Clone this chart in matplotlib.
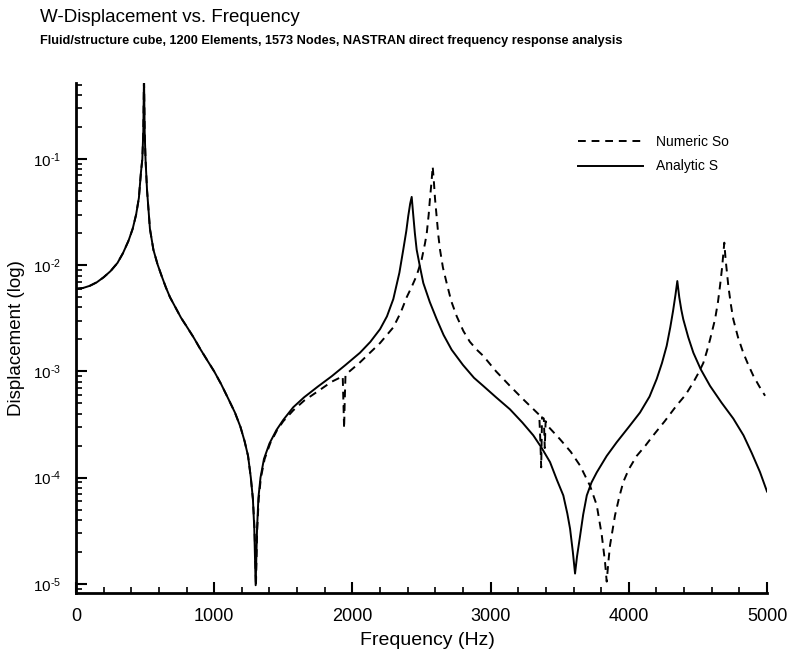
import matplotlib
matplotlib.use("Agg")
import matplotlib.pyplot as plt
from matplotlib.ticker import LogLocator, MultipleLocator, FixedLocator, FuncFormatter, NullFormatter
import numpy as np

plt.rcParams['font.family'] = ['Liberation Sans', 'DejaVu Sans']
plt.rcParams['mathtext.fontset'] = 'custom'
plt.rcParams['mathtext.rm'] = 'Liberation Sans'
plt.rcParams['mathtext.it'] = 'Liberation Sans'
plt.rcParams['mathtext.bf'] = 'Liberation Sans:bold'

# Analytic solution: frequency (Hz) and W-displacement
analytic_freq = [0, 50, 100, 150, 200, 250, 300, 340, 380, 410, 435, 455, 470, 480, 487,
                 492, 497, 503, 514, 535, 560, 590, 620, 650, 680, 720, 760, 800, 850,
                 900, 950, 1000, 1050, 1100, 1150, 1190, 1220, 1245, 1265, 1280, 1290,
                 1300, 1310, 1320, 1335, 1360, 1400, 1450, 1500, 1572, 1650, 1750,
                 1850, 1950, 2055, 2130, 2200, 2250, 2296, 2340, 2368, 2390, 2404,
                 2418, 2429, 2440, 2452, 2465, 2490, 2513, 2560, 2610, 2660, 2718,
                 2800, 2880, 2947, 3040, 3140, 3230, 3309, 3370, 3430, 3480, 3526,
                 3555, 3575, 3595, 3611, 3625, 3647, 3670, 3696, 3730, 3768, 3840,
                 3912, 4000, 4081, 4150, 4202, 4240, 4274, 4300, 4320, 4338, 4351,
                 4365, 4380, 4394, 4430, 4467, 4520, 4588, 4670, 4756, 4830, 4890,
                 4949, 5000]
analytic_disp = [6.0e-3, 6.1e-3, 6.4e-3, 6.9e-3, 7.7e-3, 8.8e-3, 1.05e-2, 1.3e-2, 1.7e-2,
                 2.2e-2, 3.0e-2, 4.3e-2, 7.5e-2, 0.1, 0.18, 0.6, 0.18, 0.1, 5.1e-2,
                 2.2e-2, 1.4e-2, 1.02e-2, 7.9e-3, 6.2e-3, 5.0e-3, 4.0e-3, 3.2e-3,
                 2.66e-3, 2.1e-3, 1.62e-3, 1.27e-3, 1.0e-3, 7.6e-4, 5.6e-4, 4.1e-4,
                 3.0e-4, 2.2e-4, 1.6e-4, 1.0e-4, 6.3e-5, 3.3e-5, 9.7e-6, 3.3e-5,
                 6.5e-5, 1.0e-4, 1.5e-4, 2.1e-4, 2.8e-4, 3.5e-4, 4.6e-4, 5.7e-4,
                 7.2e-4, 9.0e-4, 1.15e-3, 1.5e-3, 1.9e-3, 2.5e-3, 3.3e-3, 4.8e-3,
                 8.5e-3, 1.4e-2, 2.1e-2, 2.9e-2, 3.8e-2, 4.4e-2, 3.0e-2, 2.0e-2,
                 1.4e-2, 9.5e-3, 6.8e-3, 4.5e-3, 3.1e-3, 2.2e-3, 1.6e-3, 1.15e-3,
                 8.7e-4, 7.3e-4, 5.7e-4, 4.4e-4, 3.3e-4, 2.5e-4, 1.9e-4, 1.4e-4,
                 9.5e-5, 6.8e-5, 4.6e-5, 3.3e-5, 2.0e-5, 1.25e-5, 1.8e-5, 2.8e-5,
                 4.5e-5, 6.8e-5, 9.0e-5, 1.12e-4, 1.6e-4, 2.15e-4, 3.0e-4, 4.1e-4,
                 5.8e-4, 8.5e-4, 1.2e-3, 1.74e-3, 2.6e-3, 3.7e-3, 5.3e-3, 7.1e-3,
                 5.0e-3, 3.8e-3, 3.1e-3, 2.1e-3, 1.5e-3, 1.05e-3, 7.3e-4, 5.1e-4,
                 3.6e-4, 2.5e-4, 1.7e-4, 1.13e-4, 7.4e-5]

# NASTRAN direct frequency response: frequency (Hz) and W-displacement
numeric_freq = [0, 50, 100, 150, 200, 250, 300, 340, 380, 410, 435, 455, 470, 480, 487,
                492, 497, 503, 514, 535, 560, 590, 620, 650, 680, 720, 760, 800, 850,
                900, 950, 1000, 1050, 1100, 1150, 1190, 1220, 1245, 1265, 1280, 1292,
                1302, 1310, 1322, 1338, 1365, 1405, 1455, 1500, 1572, 1650, 1750,
                1850, 1930, 1937, 1940, 1944, 1950, 2050, 2127, 2200, 2296, 2350,
                2393, 2430, 2465, 2501, 2525, 2538, 2552, 2561, 2572, 2581, 2590,
                2598, 2610, 2622, 2634, 2655, 2682, 2715, 2755, 2803, 2850, 2900,
                2947, 3040, 3140, 3240, 3334, 3352, 3360, 3366, 3372, 3385, 3392,
                3398, 3420, 3502, 3580, 3647, 3719, 3768, 3804, 3828, 3840, 3852,
                3864, 3900, 3930, 3960, 4000, 4057, 4120, 4177, 4260, 4347, 4410,
                4467, 4510, 4539, 4565, 4588, 4610, 4624, 4645, 4660, 4675, 4684,
                4691, 4700, 4710, 4720, 4738, 4756, 4790, 4828, 4865, 4901, 4945,
                4986]
numeric_disp = [6.0e-3, 6.1e-3, 6.4e-3, 6.9e-3, 7.7e-3, 8.8e-3, 1.05e-2, 1.3e-2, 1.7e-2,
                2.2e-2, 3.0e-2, 4.3e-2, 7.5e-2, 0.1, 0.18, 0.6, 0.18, 0.1, 5.1e-2,
                2.2e-2, 1.4e-2, 1.02e-2, 7.9e-3, 6.2e-3, 5.0e-3, 4.0e-3, 3.2e-3,
                2.66e-3, 2.1e-3, 1.62e-3, 1.27e-3, 1.0e-3, 7.6e-4, 5.6e-4, 4.1e-4,
                3.0e-4, 2.2e-4, 1.6e-4, 1.0e-4, 6.3e-5, 3.3e-5, 9.5e-6, 3.0e-5,
                6.3e-5, 1.0e-4, 1.5e-4, 2.1e-4, 2.8e-4, 3.4e-4, 4.3e-4, 5.3e-4,
                6.5e-4, 8.0e-4, 9.0e-4, 4.0e-4, 2.9e-4, 5.0e-4, 9.3e-4, 1.2e-3,
                1.5e-3, 1.85e-3, 2.6e-3, 3.6e-3, 5.0e-3, 6.3e-3, 8.0e-3, 1.13e-2,
                1.6e-2, 2.0e-2, 3.0e-2, 4.2e-2, 6.0e-2, 8.5e-2, 6.0e-2, 4.2e-2,
                2.8e-2, 1.9e-2, 1.4e-2, 9.5e-3, 6.8e-3, 4.6e-3, 3.3e-3, 2.4e-3,
                1.9e-3, 1.6e-3, 1.4e-3, 1.0e-3, 7.3e-4, 5.4e-4, 4.1e-4, 3.9e-4,
                2.2e-4, 1.25e-4, 3.7e-4, 3.6e-4, 1.9e-4, 3.4e-4, 3.0e-4, 2.3e-4,
                1.75e-4, 1.3e-4, 8.4e-5, 5.5e-5, 2.9e-5, 1.6e-5, 1.05e-5, 1.6e-5,
                2.3e-5, 4.4e-5, 6.5e-5, 9.1e-5, 1.2e-4, 1.6e-4, 2.0e-4, 2.5e-4,
                3.4e-4, 4.8e-4, 6.0e-4, 7.9e-4, 1.0e-3, 1.2e-3, 1.55e-3, 2.0e-3,
                2.6e-3, 3.1e-3, 4.5e-3, 6.4e-3, 9.5e-3, 1.3e-2, 1.63e-2, 1.15e-2,
                8.5e-3, 6.4e-3, 4.3e-3, 3.1e-3, 2.1e-3, 1.5e-3, 1.15e-3, 9.1e-4,
                7.2e-4, 5.9e-4]

series_labels = ["Numeric So", "Analytic S"]
x_ticks = [0, 1000, 2000, 3000, 4000, 5000]

fig = plt.figure(figsize=(7.9, 6.58), dpi=100)
ax = fig.add_axes([0.0962, 0.0988, 0.8747, 0.7751])

ax.plot(numeric_freq, numeric_disp, color='black', lw=1.4, linestyle=(0, (4, 3)),
        label=series_labels[0])
ax.plot(analytic_freq, analytic_disp, color='black', lw=1.4, label=series_labels[1])

ax.set_yscale('log')
ax.set_xlim(0, 5000)
ax.set_ylim(8.2e-6, 0.52)

ax.xaxis.set_major_locator(FixedLocator(x_ticks))
ax.xaxis.set_minor_locator(MultipleLocator(200))
ax.yaxis.set_major_locator(LogLocator(base=10, numticks=10))
ax.yaxis.set_minor_locator(LogLocator(base=10, subs=range(2, 10), numticks=20))


def decade_label(v, pos):
    e = int(round(np.log10(v)))
    sign = '\u2010' if e < 0 else ''
    return r'$\mathregular{10^{%s%d}}$' % (sign, abs(e))


ax.yaxis.set_major_formatter(FuncFormatter(decade_label))
ax.yaxis.set_minor_formatter(NullFormatter())

for side in ('top', 'right'):
    ax.spines[side].set_visible(False)
for side in ('left', 'bottom'):
    ax.spines[side].set_linewidth(2.0)

ax.tick_params(which='major', direction='in', length=8, width=1.5, pad=11)
ax.tick_params(which='minor', direction='in', length=4, width=1.2)
ax.tick_params(axis='x', which='major', labelsize=13, pad=11)
ax.tick_params(axis='y', which='major', labelsize=11, pad=11)

ax.set_xlabel("Frequency (Hz)", fontsize=14)
ax.set_ylabel("Displacement (log)", fontsize=13.5)
ax.xaxis.set_label_coords(0.509, -0.076)
ax.yaxis.set_label_coords(-0.074, 0.5)

fig.text(40 / 790, 1 - 18 / 658, "W-Displacement vs. Frequency", fontsize=13.5,
         ha='left', va='center')
fig.text(40 / 790, 1 - 41 / 658,
         "Fluid/structure cube, 1200 Elements, 1573 Nodes, NASTRAN direct frequency response analysis",
         fontsize=9.2, fontweight='bold', ha='left', va='center')

ax.legend(loc='upper left', bbox_to_anchor=(578 / 790, 1 - 135 / 658),
          bbox_transform=fig.transFigure, frameon=False, fontsize=10,
          handlelength=4.7, handletextpad=0.9, labelspacing=0.75,
          borderpad=0, borderaxespad=0)

fig.savefig("out.png", dpi=100)
